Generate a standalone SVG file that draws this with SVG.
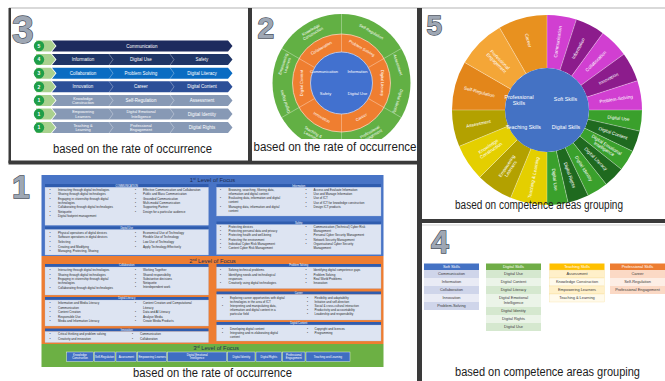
<svg xmlns="http://www.w3.org/2000/svg" xmlns:xlink="http://www.w3.org/1999/xlink" width="665" height="381" viewBox="0 0 665 381">
<style>
  text { font-family: "Liberation Sans", Arial, sans-serif; }
  .cap { font-size: 12.5px; fill: #1c1c1c; }
  .num { font-weight: bold; fill: #9ea7b4; stroke: #4a515d; stroke-width: 1.3; paint-order: stroke; }
  .frame { fill: #3a3a3a; }
  .rt { font-size: 4.5px; fill: #fff; text-anchor: middle; }
  .rt2 { font-size: 3.9px; fill: #fff; text-anchor: middle; }
  .badge { fill: #1f9e48; }
  .badge-t { font-size: 5px; fill: #fff; text-anchor: middle; font-weight: bold; }
  .sep { fill: none; stroke: #ffffff; stroke-opacity: 0.55; stroke-width: 0.6; }
  .ring-l { font-size: 4px; fill: #fff; text-anchor: middle; }
  .div { stroke: #ffffff; stroke-opacity: 0.45; stroke-width: 0.7; }
  .wedge { fill: none; stroke-width: 53; }
  .sb { font-size: 4.6px; fill: #fff; text-anchor: middle; }
  .ctr { font-size: 5.3px; fill: #fff; text-anchor: middle; }
  .th { font-size: 3.9px; fill: #fff; text-anchor: middle; }
  .td { font-size: 3.9px; fill: #3a3a3a; text-anchor: middle; }
  .lvl { font-size: 5.8px; fill: #1f2d50; text-anchor: middle; }
  .sh { fill: #2f5cae; }
  .sht { font-size: 2.6px; fill: #fff; text-anchor: middle; }
  .ct { fill: #dde4f2; stroke: #a9b9dc; stroke-width: 0.3; }
  .bl { font-size: 3px; fill: #2a2a2a; }
  .l3b { fill: #3f6ec2; stroke: #ffffff; stroke-width: 0.4; }
  .l3t { font-size: 2.8px; fill: #fff; text-anchor: middle; }
</style>
<defs>
  <polygon id="chev" points="52,0 228,0 232.5,5.5 228,11 52,11 56.5,5.5"/>
  <polygon id="tab" points="36,0 51,0 55.5,5.5 51,11 36,11"/>
  <polyline id="sep" points="0,0 4,5.5 0,11"/>
</defs>

<rect width="665" height="381" fill="#ffffff"/>

<!-- panel frames -->
<g id="frames">
  <rect x="9" y="7.3" width="656" height="1.4" fill="#c9c9c9"/>
  <rect x="8.5" y="8" width="2.5" height="155" class="frame"/>
  <rect x="248" y="8" width="4" height="156" class="frame"/>
  <rect x="8.5" y="160.5" width="413" height="4" class="frame"/>
  <rect x="417" y="8" width="5" height="373" class="frame"/>
  <rect x="417" y="219" width="248" height="4" class="frame"/>
  <rect x="422" y="224.5" width="243" height="1" fill="#d2d2d2"/>
</g>

<!-- ===== panel 3 : ranked chevron list ===== -->
<g id="panel-3">
  <text x="12" y="43" class="num" font-size="39">3</text>

  <g id="rank-1" transform="translate(0 40.5)">
    <use href="#tab" fill="#a9d18e"/>
    <use href="#chev" fill="#1d2b5e"/>
    <circle cx="39" cy="5.5" r="5.2" class="badge"/>
    <text x="39" y="7.3" class="badge-t">5</text>
    <text x="142" y="7.1" class="rt">Communication</text>
  </g>
  <g id="rank-2" transform="translate(0 54.1)">
    <use href="#tab" fill="#a9d18e"/>
    <use href="#chev" fill="#1f3566"/>
    <use href="#sep" x="109" class="sep"/><use href="#sep" x="170" class="sep"/>
    <circle cx="39" cy="5.5" r="5.2" class="badge"/>
    <text x="39" y="7.3" class="badge-t">4</text>
    <text x="83" y="7.1" class="rt">Information</text>
    <text x="141" y="7.1" class="rt">Digital Use</text>
    <text x="202" y="7.1" class="rt">Safety</text>
  </g>
  <g id="rank-3" transform="translate(0 67.7)">
    <use href="#tab" fill="#a9d18e"/>
    <use href="#chev" fill="#0a6cc2"/>
    <use href="#sep" x="109" class="sep"/><use href="#sep" x="170" class="sep"/>
    <circle cx="39" cy="5.5" r="5.2" class="badge"/>
    <text x="39" y="7.3" class="badge-t">3</text>
    <text x="83" y="7.1" class="rt">Collaboration</text>
    <text x="141" y="7.1" class="rt">Problem Solving</text>
    <text x="202" y="7.1" class="rt">Digital Literacy</text>
  </g>
  <g id="rank-4" transform="translate(0 81.3)">
    <use href="#tab" fill="#a9d18e"/>
    <use href="#chev" fill="#2c4f98"/>
    <use href="#sep" x="109" class="sep"/><use href="#sep" x="170" class="sep"/>
    <circle cx="39" cy="5.5" r="5.2" class="badge"/>
    <text x="39" y="7.3" class="badge-t">2</text>
    <text x="83" y="7.1" class="rt">Innovation</text>
    <text x="141" y="7.1" class="rt">Career</text>
    <text x="202" y="7.1" class="rt">Digital Content</text>
  </g>
  <g id="rank-5" transform="translate(0 94.9)">
    <use href="#tab" fill="#a9d18e"/>
    <use href="#chev" fill="#8799b5"/>
    <use href="#sep" x="109" class="sep"/><use href="#sep" x="170" class="sep"/>
    <circle cx="39" cy="5.5" r="5.2" class="badge"/>
    <text x="39" y="7.3" class="badge-t">1</text>
    <text x="83" y="4.9" class="rt2">Knowledge<tspan x="83" dy="4.2">Construction</tspan></text>
    <text x="141" y="7.1" class="rt">Self-Regulation</text>
    <text x="202" y="7.1" class="rt">Assessment</text>
  </g>
  <g id="rank-6" transform="translate(0 108.5)">
    <use href="#tab" fill="#a9d18e"/>
    <use href="#chev" fill="#8799b5"/>
    <use href="#sep" x="109" class="sep"/><use href="#sep" x="170" class="sep"/>
    <circle cx="39" cy="5.5" r="5.2" class="badge"/>
    <text x="39" y="7.3" class="badge-t">1</text>
    <text x="83" y="4.9" class="rt2">Empowering<tspan x="83" dy="4.2">Learners</tspan></text>
    <text x="141" y="4.9" class="rt2">Digital Emotional<tspan x="141" dy="4.2">Intelligence</tspan></text>
    <text x="202" y="7.1" class="rt">Digital Identity</text>
  </g>
  <g id="rank-7" transform="translate(0 122.1)">
    <use href="#tab" fill="#a9d18e"/>
    <use href="#chev" fill="#8799b5"/>
    <use href="#sep" x="109" class="sep"/><use href="#sep" x="170" class="sep"/>
    <circle cx="39" cy="5.5" r="5.2" class="badge"/>
    <text x="39" y="7.3" class="badge-t">1</text>
    <text x="83" y="4.9" class="rt2">Teaching &amp;<tspan x="83" dy="4.2">Learning</tspan></text>
    <text x="141" y="4.9" class="rt2">Professional<tspan x="141" dy="4.2">Engagement</tspan></text>
    <text x="202" y="7.1" class="rt">Digital Rights</text>
  </g>
  <text x="53" y="153" class="cap" textLength="159" lengthAdjust="spacingAndGlyphs">based on the rate of occurrence</text>
</g>

<!-- ===== panel 2 : concentric rings ===== -->
<g id="panel-2">
  <text x="257.5" y="38" class="num" font-size="30">2</text>
  <g id="ring-outer">
    <circle cx="341.5" cy="83" r="69" fill="#62b044"/>
    <g transform="translate(341.5 83)">
      <line x1="0" y1="-49" x2="0" y2="-69" class="div"/>
      <line x1="0" y1="-49" x2="0" y2="-69" class="div" transform="rotate(60)"/>
      <line x1="0" y1="-49" x2="0" y2="-69" class="div" transform="rotate(120)"/>
      <line x1="0" y1="-49" x2="0" y2="-69" class="div" transform="rotate(180)"/>
      <line x1="0" y1="-49" x2="0" y2="-69" class="div" transform="rotate(240)"/>
      <line x1="0" y1="-49" x2="0" y2="-69" class="div" transform="rotate(300)"/>
      <text class="ring-l" transform="rotate(-30) translate(0 -60)">Knowledge<tspan x="0" dy="4.3">Construction</tspan></text>
      <text class="ring-l" transform="rotate(30) translate(0 -58)">Self-Regulation</text>
      <text class="ring-l" transform="rotate(72) translate(0 -58)">Assessment</text>
      <text class="ring-l" transform="rotate(108) translate(0 -58)">Digital Identity</text>
      <text class="ring-l" transform="rotate(150) translate(0 -58) rotate(180)">Professional<tspan x="0" dy="4.3">Engagement</tspan></text>
      <text class="ring-l" transform="rotate(210) translate(0 -58) rotate(180)">Teaching &amp;<tspan x="0" dy="4.3">Learning</tspan></text>
      <text class="ring-l" transform="rotate(252) translate(0 -58)">Digital Rights</text>
      <text class="ring-l" transform="rotate(288) translate(0 -60)">Empowering<tspan x="0" dy="4.3">Learners</tspan></text>
    </g>
  </g>
  <g id="ring-middle">
    <circle cx="341.5" cy="83" r="49" fill="#ef7e30" stroke="#f6d7bd" stroke-width="0.8"/>
    <g transform="translate(341.5 83)">
      <line x1="0" y1="-31" x2="0" y2="-49" class="div"/>
      <line x1="0" y1="-31" x2="0" y2="-49" class="div" transform="rotate(60)"/>
      <line x1="0" y1="-31" x2="0" y2="-49" class="div" transform="rotate(120)"/>
      <line x1="0" y1="-31" x2="0" y2="-49" class="div" transform="rotate(180)"/>
      <line x1="0" y1="-31" x2="0" y2="-49" class="div" transform="rotate(240)"/>
      <line x1="0" y1="-31" x2="0" y2="-49" class="div" transform="rotate(300)"/>
      <text class="ring-l" transform="rotate(-30) translate(0 -39)">Collaboration</text>
      <text class="ring-l" transform="rotate(30) translate(0 -39)">Problem Solving</text>
      <text class="ring-l" transform="rotate(90) translate(0 -39)">Digital Literacy</text>
      <text class="ring-l" transform="rotate(150) translate(0 -39) rotate(180)" dy="2">Career</text>
      <text class="ring-l" transform="rotate(210) translate(0 -39) rotate(180)" dy="2">Innovation</text>
      <text class="ring-l" transform="rotate(270) translate(0 -39)">Digital Content</text>
    </g>
  </g>
  <g id="ring-core">
    <circle cx="341.5" cy="83" r="31" fill="#4271cf" stroke="#c9d6f2" stroke-width="0.8"/>
    <text x="324" y="73" class="ring-l">Communication</text>
    <text x="357.5" y="73" class="ring-l">Information</text>
    <text x="325.5" y="94.5" class="ring-l">Safety</text>
    <text x="357.5" y="94.5" class="ring-l">Digital Use</text>
  </g>
  <rect x="252" y="139" width="165" height="21.5" fill="#ffffff"/>
  <text x="253.5" y="150.5" class="cap" textLength="163" lengthAdjust="spacingAndGlyphs">based on the rate of occurrence</text>
</g>

<!-- ===== panel 5 : sunburst by competence area ===== -->
<g id="panel-5">
  <text x="426.5" y="35" class="num" font-size="28">5</text>
  <g id="area-soft">
    <circle cx="547" cy="110" r="68.5" pathLength="360" class="wedge" stroke="#d13fd1" stroke-dasharray="18 342" stroke-dashoffset="0" transform="rotate(-90 547 110)"/>
    <circle cx="547" cy="110" r="68.5" pathLength="360" class="wedge" stroke="#8c1c8c" stroke-dasharray="18 342" stroke-dashoffset="-18" transform="rotate(-90 547 110)"/>
    <circle cx="547" cy="110" r="68.5" pathLength="360" class="wedge" stroke="#d13fd1" stroke-dasharray="18 342" stroke-dashoffset="-36" transform="rotate(-90 547 110)"/>
    <circle cx="547" cy="110" r="68.5" pathLength="360" class="wedge" stroke="#8c1c8c" stroke-dasharray="18 342" stroke-dashoffset="-54" transform="rotate(-90 547 110)"/>
    <circle cx="547" cy="110" r="68.5" pathLength="360" class="wedge" stroke="#d13fd1" stroke-dasharray="18 342" stroke-dashoffset="-72" transform="rotate(-90 547 110)"/>
  </g>
  <g id="area-digital">
    <circle cx="547" cy="110" r="68.5" pathLength="360" class="wedge" stroke="#3aa02c" stroke-dasharray="12.857 347.143" stroke-dashoffset="-90" transform="rotate(-90 547 110)"/>
    <circle cx="547" cy="110" r="68.5" pathLength="360" class="wedge" stroke="#1f6a1f" stroke-dasharray="12.857 347.143" stroke-dashoffset="-102.857" transform="rotate(-90 547 110)"/>
    <circle cx="547" cy="110" r="68.5" pathLength="360" class="wedge" stroke="#3aa02c" stroke-dasharray="12.857 347.143" stroke-dashoffset="-115.714" transform="rotate(-90 547 110)"/>
    <circle cx="547" cy="110" r="68.5" pathLength="360" class="wedge" stroke="#1f6a1f" stroke-dasharray="12.857 347.143" stroke-dashoffset="-128.571" transform="rotate(-90 547 110)"/>
    <circle cx="547" cy="110" r="68.5" pathLength="360" class="wedge" stroke="#3aa02c" stroke-dasharray="12.857 347.143" stroke-dashoffset="-141.429" transform="rotate(-90 547 110)"/>
    <circle cx="547" cy="110" r="68.5" pathLength="360" class="wedge" stroke="#1f6a1f" stroke-dasharray="12.857 347.143" stroke-dashoffset="-154.286" transform="rotate(-90 547 110)"/>
    <circle cx="547" cy="110" r="68.5" pathLength="360" class="wedge" stroke="#3aa02c" stroke-dasharray="12.857 347.143" stroke-dashoffset="-167.143" transform="rotate(-90 547 110)"/>
  </g>
  <g id="area-teaching">
    <circle cx="547" cy="110" r="68.5" pathLength="360" class="wedge" stroke="#e4cf00" stroke-dasharray="22.5 337.5" stroke-dashoffset="-180" transform="rotate(-90 547 110)"/>
    <circle cx="547" cy="110" r="68.5" pathLength="360" class="wedge" stroke="#b3a100" stroke-dasharray="22.5 337.5" stroke-dashoffset="-202.5" transform="rotate(-90 547 110)"/>
    <circle cx="547" cy="110" r="68.5" pathLength="360" class="wedge" stroke="#e4cf00" stroke-dasharray="22.5 337.5" stroke-dashoffset="-225" transform="rotate(-90 547 110)"/>
    <circle cx="547" cy="110" r="68.5" pathLength="360" class="wedge" stroke="#b3a100" stroke-dasharray="22.5 337.5" stroke-dashoffset="-247.5" transform="rotate(-90 547 110)"/>
  </g>
  <g id="area-professional">
    <circle cx="547" cy="110" r="68.5" pathLength="360" class="wedge" stroke="#e3861a" stroke-dasharray="30 330" stroke-dashoffset="-270" transform="rotate(-90 547 110)"/>
    <circle cx="547" cy="110" r="68.5" pathLength="360" class="wedge" stroke="#f4a637" stroke-dasharray="30 330" stroke-dashoffset="-300" transform="rotate(-90 547 110)"/>
    <circle cx="547" cy="110" r="68.5" pathLength="360" class="wedge" stroke="#e8911f" stroke-dasharray="30 330" stroke-dashoffset="-330" transform="rotate(-90 547 110)"/>
  </g>
  <g id="wedge-edges" transform="translate(547 110)">
    <line x1="0" y1="-42" x2="0" y2="-95" class="div" transform="rotate(0)"/>
    <line x1="0" y1="-42" x2="0" y2="-95" class="div" transform="rotate(18)"/>
    <line x1="0" y1="-42" x2="0" y2="-95" class="div" transform="rotate(36)"/>
    <line x1="0" y1="-42" x2="0" y2="-95" class="div" transform="rotate(54)"/>
    <line x1="0" y1="-42" x2="0" y2="-95" class="div" transform="rotate(72)"/>
    <line x1="0" y1="-42" x2="0" y2="-95" class="div" transform="rotate(90)"/>
    <line x1="0" y1="-42" x2="0" y2="-95" class="div" transform="rotate(102.857)"/>
    <line x1="0" y1="-42" x2="0" y2="-95" class="div" transform="rotate(115.714)"/>
    <line x1="0" y1="-42" x2="0" y2="-95" class="div" transform="rotate(128.571)"/>
    <line x1="0" y1="-42" x2="0" y2="-95" class="div" transform="rotate(141.429)"/>
    <line x1="0" y1="-42" x2="0" y2="-95" class="div" transform="rotate(154.286)"/>
    <line x1="0" y1="-42" x2="0" y2="-95" class="div" transform="rotate(167.143)"/>
    <line x1="0" y1="-42" x2="0" y2="-95" class="div" transform="rotate(180)"/>
    <line x1="0" y1="-42" x2="0" y2="-95" class="div" transform="rotate(202.5)"/>
    <line x1="0" y1="-42" x2="0" y2="-95" class="div" transform="rotate(225)"/>
    <line x1="0" y1="-42" x2="0" y2="-95" class="div" transform="rotate(247.5)"/>
    <line x1="0" y1="-42" x2="0" y2="-95" class="div" transform="rotate(270)"/>
    <line x1="0" y1="-42" x2="0" y2="-95" class="div" transform="rotate(300)"/>
    <line x1="0" y1="-42" x2="0" y2="-95" class="div" transform="rotate(330)"/>
  </g>
  <g id="wedge-labels" transform="translate(547 110)">
    <text class="sb" dy="1.6" transform="rotate(9) translate(0 -69) rotate(-90)">Communication</text>
    <text class="sb" dy="1.6" transform="rotate(27) translate(0 -69) rotate(-90)">Information</text>
    <text class="sb" dy="1.6" transform="rotate(45) translate(0 -69) rotate(-90)">Collaboration</text>
    <text class="sb" dy="1.6" transform="rotate(63) translate(0 -69) rotate(-90)">Innovation</text>
    <text class="sb" dy="1.6" transform="rotate(81) translate(0 -70) rotate(-90)">Problem-Solving</text>
    <text class="sb" dy="1.6" transform="rotate(96.43) translate(0 -72) rotate(-90)">Digital Use</text>
    <text class="sb" dy="1.6" transform="rotate(109.29) translate(0 -70) rotate(-90)">Digital Content</text>
    <text class="sb" dy="-0.6" transform="rotate(122.14) translate(0 -69) rotate(-90)">Digital Emotional<tspan x="0" dy="4.6">Intelligence</tspan></text>
    <text class="sb" dy="1.6" transform="rotate(135) translate(0 -69) rotate(-90)">Digital Literacy</text>
    <text class="sb" dy="1.6" transform="rotate(147.86) translate(0 -69) rotate(-90)">Digital Identity</text>
    <text class="sb" dy="1.6" transform="rotate(160.71) translate(0 -69) rotate(-90)">Digital Rights</text>
    <text class="sb" dy="1.6" transform="rotate(173.57) translate(0 -70) rotate(-90)">Digital Use</text>
    <text class="sb" dy="1.6" transform="rotate(191.25) translate(0 -69) rotate(90)">Teaching &amp; Learning</text>
    <text class="sb" dy="-0.7" transform="rotate(213.75) translate(0 -69) rotate(90)">Empowering<tspan x="0" dy="4.8">Learners</tspan></text>
    <text class="sb" dy="-0.7" transform="rotate(236.25) translate(0 -69) rotate(90)">Knowledge<tspan x="0" dy="4.8">Construction</tspan></text>
    <text class="sb" dy="1.6" transform="rotate(258.75) translate(0 -70) rotate(90)">Assessment</text>
    <text class="sb" dy="1.6" transform="rotate(285) translate(0 -70) rotate(90)">Self-Regulation</text>
    <text class="sb" dy="-0.7" transform="rotate(315) translate(0 -69) rotate(90)">Professional<tspan x="0" dy="4.8">Engagement</tspan></text>
    <text class="sb" dy="1.6" transform="rotate(345) translate(0 -72) rotate(90)">Career</text>
  </g>
  <g id="area-core">
    <circle cx="547" cy="110" r="42" fill="#4472c4"/>
    <text x="519" y="99" class="ctr">Professional<tspan x="519" dy="5.8">Skills</tspan></text>
    <text x="565.5" y="100.5" class="ctr">Soft Skills</text>
    <text x="523.5" y="129" class="ctr">Teaching Skills</text>
    <text x="566" y="129" class="ctr">Digital Skills</text>
  </g>
  <text x="455" y="209" class="cap" font-size="11.5" textLength="168" lengthAdjust="spacingAndGlyphs">based on competence areas grouping</text>
</g>

<!-- ===== panel 4 : grouped tables ===== -->
<g id="panel-4">
  <text x="431" y="253" class="num" font-size="32">4</text>
  <g id="tbl-soft">
    <rect x="424" y="263.5" width="55" height="6.5" fill="#4472c4"/>
    <text x="451.5" y="268.2" class="th">Soft Skills</text>
    <rect x="424" y="270" width="55" height="8" fill="#cfd5ea"/>
    <rect x="424" y="278" width="55" height="8" fill="#e9ebf5"/>
    <rect x="424" y="286" width="55" height="8" fill="#cfd5ea"/>
    <rect x="424" y="294" width="55" height="8" fill="#e9ebf5"/>
    <rect x="424" y="302" width="55" height="8" fill="#cfd5ea"/>
    <text x="451.5" y="275.4" class="td">Communication</text>
    <text x="451.5" y="283.4" class="td">Information</text>
    <text x="451.5" y="291.4" class="td">Collaboration</text>
    <text x="451.5" y="299.4" class="td">Innovation</text>
    <text x="451.5" y="307.4" class="td">Problem-Solving</text>
  </g>
  <g id="tbl-digital">
    <rect x="486" y="263.5" width="55" height="6.5" fill="#70ad47"/>
    <text x="513.5" y="268.2" class="th">Digital Skills</text>
    <rect x="486" y="270" width="55" height="8" fill="#d5e8cf"/>
    <rect x="486" y="278" width="55" height="8" fill="#ebf4e8"/>
    <rect x="486" y="286" width="55" height="8" fill="#d5e8cf"/>
    <rect x="486" y="294" width="55" height="13" fill="#ebf4e8"/>
    <rect x="486" y="307" width="55" height="8" fill="#d5e8cf"/>
    <rect x="486" y="315" width="55" height="8" fill="#ebf4e8"/>
    <rect x="486" y="323" width="55" height="8" fill="#d5e8cf"/>
    <text x="513.5" y="275.4" class="td">Digital Use</text>
    <text x="513.5" y="283.4" class="td">Digital Content</text>
    <text x="513.5" y="291.4" class="td">Digital Literacy</text>
    <text x="513.5" y="299.4" class="td">Digital Emotional<tspan x="513.5" dy="4.6">Intelligence</tspan></text>
    <text x="513.5" y="312.4" class="td">Digital Identity</text>
    <text x="513.5" y="320.4" class="td">Digital Rights</text>
    <text x="513.5" y="328.4" class="td">Digital Use</text>
  </g>
  <g id="tbl-teaching">
    <rect x="549.5" y="263.5" width="55" height="6.5" fill="#ffc000"/>
    <text x="577" y="268.2" class="th">Teaching Skills</text>
    <rect x="549.5" y="270" width="55" height="8" fill="#fff0c9" stroke="#f3d98a" stroke-width="0.3"/>
    <rect x="549.5" y="278" width="55" height="8" fill="#fffaeb" stroke="#f3d98a" stroke-width="0.3"/>
    <rect x="549.5" y="286" width="55" height="8" fill="#fff0c9" stroke="#f3d98a" stroke-width="0.3"/>
    <rect x="549.5" y="294" width="55" height="8" fill="#fffaeb" stroke="#f3d98a" stroke-width="0.3"/>
    <text x="577" y="275.4" class="td">Assessment</text>
    <text x="577" y="283.4" class="td">Knowledge Construction</text>
    <text x="577" y="291.4" class="td">Empowering Learners</text>
    <text x="577" y="299.4" class="td">Teaching &amp; Learning</text>
  </g>
  <g id="tbl-professional">
    <rect x="610" y="263.5" width="55" height="6.5" fill="#ed7d31"/>
    <text x="637.5" y="268.2" class="th">Professional Skills</text>
    <rect x="610" y="270" width="55" height="8" fill="#fbd9c5"/>
    <rect x="610" y="278" width="55" height="8" fill="#fdeee5"/>
    <rect x="610" y="286" width="55" height="8" fill="#fbd9c5"/>
    <text x="637.5" y="275.4" class="td">Career</text>
    <text x="637.5" y="283.4" class="td">Self-Regulation</text>
    <text x="637.5" y="291.4" class="td">Professional Engagement</text>
  </g>
  <text x="455" y="376" class="cap" font-size="13" textLength="185" lengthAdjust="spacingAndGlyphs">based on competence areas grouping</text>
</g>

<!-- ===== panel 1 : levels of focus ===== -->
<g id="panel-1">
  <text x="12" y="198" class="num" font-size="32">1</text>

  <g id="level-1">
    <rect x="41.5" y="175" width="342" height="81" fill="#4874c6"/>
    <text x="212.5" y="182.3" class="lvl">1<tspan font-size="3.6" dy="-2">st</tspan><tspan dy="2"> Level of Focus</tspan></text>
  </g>
  <g id="sec-communication">
    <rect x="45" y="184" width="163.5" height="3.2" class="sh"/>
    <text x="126.7" y="186.5" class="sht">COMMUNICATION</text>
    <rect x="45" y="187.2" width="163.5" height="38" class="ct"/>
    <text class="bl" y="191"><tspan x="49.5">•</tspan><tspan x="58">Interacting through digital technologies</tspan></text>
    <text class="bl" y="195.3"><tspan x="49.5">•</tspan><tspan x="58">Sharing through digital technologies</tspan></text>
    <text class="bl" y="199.6"><tspan x="49.5">•</tspan><tspan x="58">Engaging in citizenship through digital</tspan></text>
    <text class="bl" y="203.9" x="58">technologies</text>
    <text class="bl" y="208.2"><tspan x="49.5">•</tspan><tspan x="58">Collaborating through digital technologies</tspan></text>
    <text class="bl" y="212.5"><tspan x="49.5">•</tspan><tspan x="58">Netiquette</tspan></text>
    <text class="bl" y="216.8"><tspan x="49.5">•</tspan><tspan x="58">Digital footprint management</tspan></text>
    <text class="bl" y="191"><tspan x="135">•</tspan><tspan x="143">Effective Communication and Collaboration</tspan></text>
    <text class="bl" y="195.3"><tspan x="135">•</tspan><tspan x="143">Public and Mass Communication</tspan></text>
    <text class="bl" y="199.6"><tspan x="135">•</tspan><tspan x="143">Grounded Communication</tspan></text>
    <text class="bl" y="203.9"><tspan x="135">•</tspan><tspan x="143">Multi-modal Communication</tspan></text>
    <text class="bl" y="208.2"><tspan x="135">•</tspan><tspan x="143">Supporting Partner</tspan></text>
    <text class="bl" y="212.5"><tspan x="135">•</tspan><tspan x="143">Design for a particular audience</tspan></text>
  </g>
  <g id="sec-digital-use">
    <rect x="45" y="226.5" width="163.5" height="3" class="sh"/>
    <text x="126.7" y="228.9" class="sht">Digital Use</text>
    <rect x="45" y="229.5" width="163.5" height="25.5" class="ct"/>
    <text class="bl" y="233.5"><tspan x="49.5">•</tspan><tspan x="58">Physical operations of digital devices</tspan></text>
    <text class="bl" y="238.2"><tspan x="49.5">•</tspan><tspan x="58">Software operations in digital devices</tspan></text>
    <text class="bl" y="242.9"><tspan x="49.5">•</tspan><tspan x="58">Selecting</tspan></text>
    <text class="bl" y="247.6"><tspan x="49.5">•</tspan><tspan x="58">Creating and Modifying</tspan></text>
    <text class="bl" y="252.3"><tspan x="49.5">•</tspan><tspan x="58">Managing, Protecting, Sharing</tspan></text>
    <text class="bl" y="233.5"><tspan x="135">•</tspan><tspan x="143">Economical Use of Technology</tspan></text>
    <text class="bl" y="238.2"><tspan x="135">•</tspan><tspan x="143">Flexible Use of Technology</tspan></text>
    <text class="bl" y="242.9"><tspan x="135">•</tspan><tspan x="143">Low Use of Technology</tspan></text>
    <text class="bl" y="247.6"><tspan x="135">•</tspan><tspan x="143">Apply Technology Effectively</tspan></text>
  </g>
  <g id="sec-information">
    <rect x="216.5" y="184" width="164.5" height="3.2" class="sh"/>
    <text x="298.7" y="186.5" class="sht">Information</text>
    <rect x="216.5" y="187.2" width="164.5" height="28.8" class="ct"/>
    <text class="bl" y="190.8"><tspan x="220">•</tspan><tspan x="228.5">Browsing, searching, filtering data,</tspan></text>
    <text class="bl" y="194.8" x="228.5">information and digital content</text>
    <text class="bl" y="199.4"><tspan x="220">•</tspan><tspan x="228.5">Evaluating data, information and digital</tspan></text>
    <text class="bl" y="203.4" x="228.5">content</text>
    <text class="bl" y="208"><tspan x="220">•</tspan><tspan x="228.5">Managing data, information and digital</tspan></text>
    <text class="bl" y="212" x="228.5">content</text>
    <text class="bl" y="190.8"><tspan x="305.5">•</tspan><tspan x="313.5">Access and Evaluate Information</tspan></text>
    <text class="bl" y="195"><tspan x="305.5">•</tspan><tspan x="313.5">Use and Manage Information</tspan></text>
    <text class="bl" y="199.4"><tspan x="305.5">•</tspan><tspan x="313.5">Use of ICT</tspan></text>
    <text class="bl" y="203.6"><tspan x="305.5">•</tspan><tspan x="313.5">Use of ICT for knowledge construction</tspan></text>
    <text class="bl" y="207.8"><tspan x="305.5">•</tspan><tspan x="313.5">Design ICT products</tspan></text>
  </g>
  <g id="sec-safety">
    <rect x="216.5" y="221.5" width="164.5" height="3" class="sh"/>
    <text x="298.7" y="223.9" class="sht">Safety</text>
    <rect x="216.5" y="224.5" width="164.5" height="30" class="ct"/>
    <text class="bl" y="228"><tspan x="220">•</tspan><tspan x="228.5">Protecting devices</tspan></text>
    <text class="bl" y="232.2"><tspan x="220">•</tspan><tspan x="228.5">Protecting personal data and privacy</tspan></text>
    <text class="bl" y="236.4"><tspan x="220">•</tspan><tspan x="228.5">Protecting health and well-being</tspan></text>
    <text class="bl" y="240.6"><tspan x="220">•</tspan><tspan x="228.5">Protecting the environment</tspan></text>
    <text class="bl" y="244.8"><tspan x="220">•</tspan><tspan x="228.5">Individual Cyber Risk Management</tspan></text>
    <text class="bl" y="249"><tspan x="220">•</tspan><tspan x="228.5">Content Cyber Risk Management</tspan></text>
    <text class="bl" y="228"><tspan x="305.5">•</tspan><tspan x="313.5">Communication (Technical) Cyber Risk</tspan></text>
    <text class="bl" y="232.2" x="313.5">Management</text>
    <text class="bl" y="236.4"><tspan x="305.5">•</tspan><tspan x="313.5">Personal Cyber Security Management</tspan></text>
    <text class="bl" y="240.6"><tspan x="305.5">•</tspan><tspan x="313.5">Network Security Management</tspan></text>
    <text class="bl" y="244.8"><tspan x="305.5">•</tspan><tspan x="313.5">Organisational Cyber Security</tspan></text>
    <text class="bl" y="249" x="313.5">Management</text>
  </g>

  <g id="level-2">
    <rect x="41.5" y="256" width="342" height="88" fill="#ee7d31"/>
    <text x="212.5" y="262.5" class="lvl">2<tspan font-size="3.6" dy="-2">nd</tspan><tspan dy="2"> Level of Focus</tspan></text>
  </g>
  <g id="sec-collaboration">
    <rect x="45" y="264" width="163.5" height="3" class="sh"/>
    <text x="126.7" y="266.4" class="sht">Collaboration</text>
    <rect x="45" y="267" width="163.5" height="28" class="ct"/>
    <text class="bl" y="271.3"><tspan x="49.5">•</tspan><tspan x="58">Interacting through digital technologies</tspan></text>
    <text class="bl" y="275.5"><tspan x="49.5">•</tspan><tspan x="58">Sharing through digital technologies</tspan></text>
    <text class="bl" y="279.7"><tspan x="49.5">•</tspan><tspan x="58">Engaging in citizenship through digital</tspan></text>
    <text class="bl" y="283.9" x="58">technologies</text>
    <text class="bl" y="288.6"><tspan x="49.5">•</tspan><tspan x="58">Collaborating through digital technologies</tspan></text>
    <text class="bl" y="271.3"><tspan x="135">•</tspan><tspan x="143">Working Together</tspan></text>
    <text class="bl" y="275.5"><tspan x="135">•</tspan><tspan x="143">Shared responsibility</tspan></text>
    <text class="bl" y="279.7"><tspan x="135">•</tspan><tspan x="143">Substantive decisions</tspan></text>
    <text class="bl" y="283.9"><tspan x="135">•</tspan><tspan x="143">Netiquette</tspan></text>
    <text class="bl" y="288.1"><tspan x="135">•</tspan><tspan x="143">Interdependent work</tspan></text>
  </g>
  <g id="sec-digital-literacy">
    <rect x="45" y="297" width="163.5" height="3" class="sh"/>
    <text x="126.7" y="299.4" class="sht">Digital Literacy</text>
    <rect x="45" y="300" width="163.5" height="26" class="ct"/>
    <text class="bl" y="304"><tspan x="49.5">•</tspan><tspan x="58">Information and Media Literacy</tspan></text>
    <text class="bl" y="308.5"><tspan x="49.5">•</tspan><tspan x="58">Communication</tspan></text>
    <text class="bl" y="313"><tspan x="49.5">•</tspan><tspan x="58">Content Creation</tspan></text>
    <text class="bl" y="317.5"><tspan x="49.5">•</tspan><tspan x="58">Responsible Use</tspan></text>
    <text class="bl" y="322"><tspan x="49.5">•</tspan><tspan x="58">Media and Information Literacy</tspan></text>
    <text class="bl" y="304"><tspan x="135">•</tspan><tspan x="143">Content Creation and Computational</tspan></text>
    <text class="bl" y="308.5" x="143">Literacy</text>
    <text class="bl" y="313"><tspan x="135">•</tspan><tspan x="143">Data and AI Literacy</tspan></text>
    <text class="bl" y="317.5"><tspan x="135">•</tspan><tspan x="143">Analyse Media</tspan></text>
    <text class="bl" y="322"><tspan x="135">•</tspan><tspan x="143">Create Media Products</tspan></text>
  </g>
  <g id="sec-innovation">
    <rect x="45" y="328.5" width="163.5" height="3" class="sh"/>
    <text x="126.7" y="330.9" class="sht">Innovation</text>
    <rect x="45" y="331.5" width="163.5" height="11" class="ct"/>
    <text class="bl" y="335.3"><tspan x="49.5">•</tspan><tspan x="58">Critical thinking and problem solving</tspan></text>
    <text class="bl" y="339.6"><tspan x="49.5">•</tspan><tspan x="58">Creativity and innovation</tspan></text>
    <text class="bl" y="335.3"><tspan x="132">•</tspan><tspan x="140">Communication</tspan></text>
    <text class="bl" y="339.6"><tspan x="132">•</tspan><tspan x="140">Collaboration</tspan></text>
  </g>
  <g id="sec-problem-solving">
    <rect x="216.5" y="264" width="164.5" height="3" class="sh"/>
    <text x="298.7" y="266.4" class="sht">Problem Solving</text>
    <rect x="216.5" y="267" width="164.5" height="21.5" class="ct"/>
    <text class="bl" y="271.3"><tspan x="220">•</tspan><tspan x="228.5">Solving technical problems</tspan></text>
    <text class="bl" y="275.5"><tspan x="220">•</tspan><tspan x="228.5">Identifying needs and technological</tspan></text>
    <text class="bl" y="279.5" x="228.5">responses</text>
    <text class="bl" y="284"><tspan x="220">•</tspan><tspan x="228.5">Creatively using digital technologies</tspan></text>
    <text class="bl" y="271.3"><tspan x="305.5">•</tspan><tspan x="313.5">Identifying digital competence gaps</tspan></text>
    <text class="bl" y="275.5"><tspan x="305.5">•</tspan><tspan x="313.5">Problem Solving</tspan></text>
    <text class="bl" y="279.7"><tspan x="305.5">•</tspan><tspan x="313.5">Real World Problems</tspan></text>
    <text class="bl" y="283.9"><tspan x="305.5">•</tspan><tspan x="313.5">Innovation</tspan></text>
  </g>
  <g id="sec-career">
    <rect x="216.5" y="291.5" width="164.5" height="3" class="sh"/>
    <text x="298.7" y="293.9" class="sht">Career</text>
    <rect x="216.5" y="294.5" width="164.5" height="25.5" class="ct"/>
    <text class="bl" y="298.5"><tspan x="222">•</tspan><tspan x="230">Exploring career opportunities with digital</tspan></text>
    <text class="bl" y="302.5" x="230">technologies in the area of ICT</text>
    <text class="bl" y="307.2"><tspan x="222">•</tspan><tspan x="230">Interpreting and manipulating data,</tspan></text>
    <text class="bl" y="311.2" x="230">information and digital content in a</text>
    <text class="bl" y="315.2" x="230">particular field</text>
    <text class="bl" y="298.5"><tspan x="307">•</tspan><tspan x="314.5">Flexibility and adaptability</tspan></text>
    <text class="bl" y="302.7"><tspan x="307">•</tspan><tspan x="314.5">Initiative and self-direction</tspan></text>
    <text class="bl" y="306.9"><tspan x="307">•</tspan><tspan x="314.5">Social &amp; cross-cultural interaction</tspan></text>
    <text class="bl" y="311.1"><tspan x="307">•</tspan><tspan x="314.5">Productivity and accountability</tspan></text>
    <text class="bl" y="315.3"><tspan x="307">•</tspan><tspan x="314.5">Leadership and responsibility</tspan></text>
  </g>
  <g id="sec-digital-content">
    <rect x="216.5" y="322" width="164.5" height="3" class="sh"/>
    <text x="298.7" y="324.4" class="sht">Digital Content</text>
    <rect x="216.5" y="325" width="164.5" height="16" class="ct"/>
    <text class="bl" y="330"><tspan x="222">•</tspan><tspan x="230">Developing digital content</tspan></text>
    <text class="bl" y="334.3"><tspan x="222">•</tspan><tspan x="230">Integrating and re-elaborating digital</tspan></text>
    <text class="bl" y="338.3" x="230">content</text>
    <text class="bl" y="330"><tspan x="307">•</tspan><tspan x="314.5">Copyright and licences</tspan></text>
    <text class="bl" y="334.3"><tspan x="307">•</tspan><tspan x="314.5">Programming</tspan></text>
  </g>

  <g id="level-3">
    <rect x="41.5" y="344" width="342" height="23" fill="#6cb044"/>
    <text x="216" y="350.2" class="lvl">3<tspan font-size="3.6" dy="-2">rd</tspan><tspan dy="2"> Level of Focus</tspan></text>
    <rect x="66.7" y="352" width="26.6" height="9.5" class="l3b"/>
    <text x="80" y="356" class="l3t">Knowledge<tspan x="80" dy="3.2">Construction</tspan></text>
    <rect x="94.3" y="352" width="20.7" height="9.5" class="l3b"/>
    <text x="104.6" y="357.7" class="l3t">Self-Regulation</text>
    <rect x="116" y="352" width="20.7" height="9.5" class="l3b"/>
    <text x="126.3" y="357.7" class="l3t">Assessment</text>
    <rect x="137.7" y="352" width="29" height="9.5" class="l3b"/>
    <text x="152.2" y="357.7" class="l3t">Empowering Learners</text>
    <rect x="167.7" y="352" width="59" height="9.5" class="l3b"/>
    <text x="197.2" y="356" class="l3t">Digital Emotional<tspan x="197.2" dy="3.2">Intelligence</tspan></text>
    <rect x="227.7" y="352" width="27.3" height="9.5" class="l3b"/>
    <text x="241.3" y="357.7" class="l3t">Digital Identity</text>
    <rect x="256" y="352" width="25.7" height="9.5" class="l3b"/>
    <text x="268.8" y="357.7" class="l3t">Digital Rights</text>
    <rect x="282.7" y="352" width="22.3" height="9.5" class="l3b"/>
    <text x="293.8" y="356" class="l3t">Professional<tspan x="293.8" dy="3.2">Engagement</tspan></text>
    <rect x="306" y="352" width="44" height="9.5" class="l3b"/>
    <text x="328" y="357.7" class="l3t">Teaching and Learning</text>
  </g>
  <text x="133" y="377" class="cap" textLength="159" lengthAdjust="spacingAndGlyphs">based on the rate of occurrence</text>
</g>
</svg>
